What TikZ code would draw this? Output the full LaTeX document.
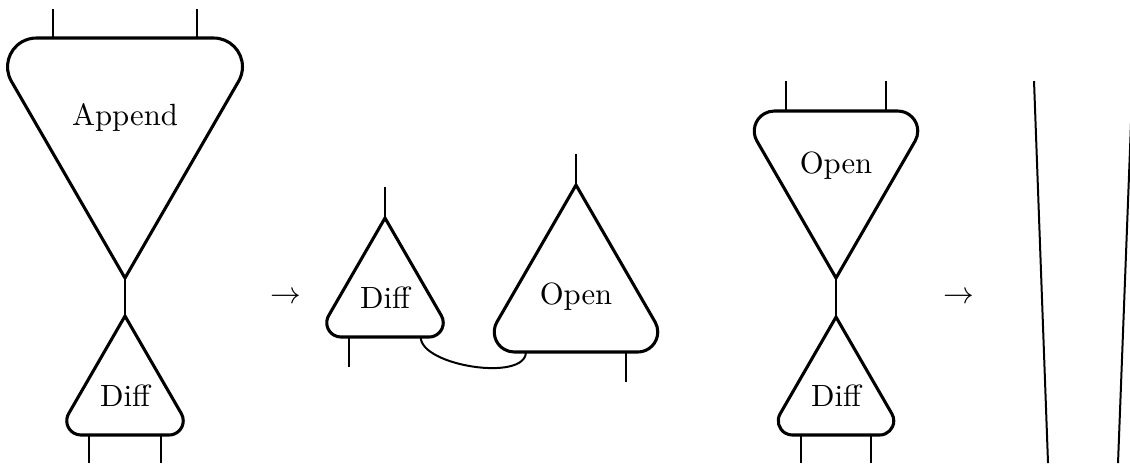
\documentclass[tikz,border=0pt]{standalone}
\tikzset{
  outline/.style={line width=1pt, line join=miter},
  wire/.style={line width=0.65pt},
  lbl/.style={inner sep=0pt},
}
\newcommand\mytri[5]{% name, apex x, apex y, height, direction
  \begin{scope}[shift={(#2,#3)}, yscale=#5]
    \pgfmathsetmacro\tw{#4/sqrt(3)}
    \pgfmathsetmacro\tr{0.12*#4}
    \pgfmathsetmacro\clx{-\tw+sqrt(3)*\tr}
    \pgfmathsetmacro\cy{#4-\tr}
    \draw[outline] (0,0) -- ({\clx+\tr*cos(210)},{\cy+\tr*sin(210)})
      arc[start angle=210,end angle=90,radius=\tr] -- ({-\clx},#4)
      arc[start angle=90,end angle=-30,radius=\tr] -- cycle;
    \coordinate (#1-a) at (0,0);
    \coordinate (#1-l) at ({-0.3*#4},#4);
    \coordinate (#1-r) at ({0.3*#4},#4);
    \coordinate (#1-c) at (0,{0.67*#4});
  \end{scope}}
\begin{document}
\begin{tikzpicture}[x=0.3257pt,y=-0.3257pt]
\useasboundingbox (0,0) rectangle (1130,463);
\coordinate (row9) at (0,9);
\coordinate (row81) at (0,81);
\coordinate (row154) at (0,154);
\coordinate (row187) at (0,187);
\coordinate (row367) at (0,367);
\coordinate (row382) at (0,382);
\coordinate (rowB) at (0,463);
% left
\mytri{A}{125}{278}{240}{-1}
\mytri{D1}{125}{316}{119}{1}
\node[lbl] (tA) at (A-c) {Append};
\node[lbl] (tD1) at (D1-c) {Diff};
\draw[wire] (A-l) -- (A-l |- row9);
\draw[wire] (A-r) -- (A-r |- row9);
\draw[wire] (A-a) -- (D1-a);
\draw[wire] (D1-l) -- (D1-l |- rowB);
\draw[wire] (D1-r) -- (D1-r |- rowB);
\node[anchor=base] (ar1) at (286,303.7) {$\rightarrow$};
% middle
\mytri{D2}{385}{218}{119}{1}
\mytri{O2}{576}{185}{167}{1}
\node[lbl] (tD2) at (D2-c) {Diff};
\node[lbl] (tO2) at (O2-c) {Open};
\draw[wire] (D2-a) -- (D2-a |- row187);
\draw[wire] (D2-l) -- (D2-l |- row367);
\draw[wire] (D2-r) .. controls +(0,29) and +(0,30) .. (O2-l);
\draw[wire] (O2-a) -- (O2-a |- row154);
\draw[wire] (O2-r) -- (O2-r |- row382);
% right
\mytri{O3}{836}{278}{167}{-1}
\mytri{D3}{836}{317}{118}{1}
\node[lbl] (tO3) at (O3-c) {Open};
\node[lbl] (tD3) at (D3-c) {Diff};
\draw[wire] (O3-l) -- (O3-l |- row81);
\draw[wire] (O3-r) -- (O3-r |- row81);
\draw[wire] (O3-a) -- (D3-a);
\draw[wire] (D3-l) -- (D3-l |- rowB);
\draw[wire] (D3-r) -- (D3-r |- rowB);
\node[anchor=base] (ar2) at (959,303.7) {$\rightarrow$};
\coordinate (p1) at (1034,81);
\coordinate (p2) at (1048,463);
\coordinate (q1) at (1132.6,81);
\coordinate (q2) at (1118,463);
\draw[wire] (p1) -- (p2);
\draw[wire] (q1) -- (q2);
\end{tikzpicture}
\end{document}
